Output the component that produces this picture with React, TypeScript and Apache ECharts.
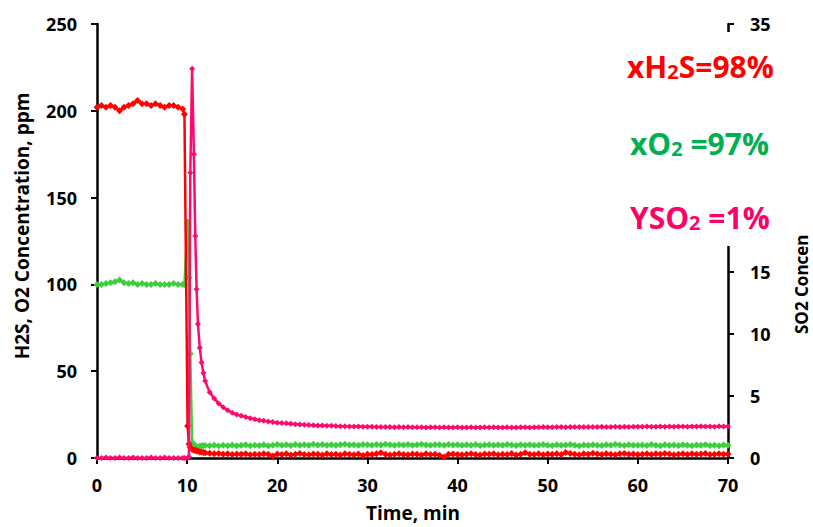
import React, { useEffect, useRef } from "react";
import * as echarts from "echarts";

// ---- time grid (min) ----
const preTimes = [0, 0.5, 1, 1.5, 2, 2.5, 3, 3.5, 4, 4.5, 5, 5.5, 6, 6.5, 7, 7.5, 8, 8.5, 9, 9.5];
const transTimes = [9.7, 10.05, 10.2, 10.35, 10.55, 10.75, 10.9, 11.05, 11.2, 11.4, 11.6, 11.8, 12];
const postTimes = [
  12.5, 13, 13.5, 14, 14.5, 15, 15.5, 16, 16.5, 17, 17.5, 18, 18.5, 19, 19.5, 20,
  20.5, 21, 21.5, 22, 22.5, 23, 23.5, 24, 24.5, 25, 25.5, 26, 26.5, 27, 27.5, 28, 28.5, 29, 29.5, 30,
  30.5, 31, 31.5, 32, 32.5, 33, 33.5, 34, 34.5, 35, 35.5, 36, 36.5, 37, 37.5, 38, 38.5, 39, 39.5, 40,
  40.5, 41, 41.5, 42, 42.5, 43, 43.5, 44, 44.5, 45, 45.5, 46, 46.5, 47, 47.5, 48, 48.5, 49, 49.5, 50,
  50.5, 51, 51.5, 52, 52.5, 53, 53.5, 54, 54.5, 55, 55.5, 56, 56.5, 57, 57.5, 58, 58.5, 59, 59.5, 60,
  60.5, 61, 61.5, 62, 62.5, 63, 63.5, 64, 64.5, 65, 65.5, 66, 66.5, 67, 67.5, 68, 68.5, 69, 69.5, 70,
];

// ---- H2S (ppm, left axis) ----
const h2sPre = [202, 203, 202, 203, 202, 200, 202, 203, 204, 206, 204, 204, 203, 204, 203, 202, 203, 203, 202, 201];
const h2sTrans = [198, 18.5, 8, 6, 5, 4.5, 4.5, 4, 4, 3.5, 3.5, 3.2, 3];
const h2sPost = [
  2.8, 2.5, 2.6, 2.2, 2.4, 2.0, 2.3, 2.1, 2.5, 1.9, 2.2, 2.0, 2.4, 2.1, 1.2, 2.3,
  2.0, 2.5, 1.8, 2.2, 2.6, 2.0, 1.9, 2.3, 2.1, 1.7, 2.4, 2.0, 2.2, 1.8, 2.5, 2.1, 1.9, 2.3, 1.4, 2.2,
  2.0, 2.4, 3.0, 2.1, 1.8, 2.2, 2.5, 2.0, 1.9, 2.3, 2.1, 1.8, 2.4, 2.0, 2.2, 1.6, 0.6, 2.1, 2.3, 2.0,
  1.9, 2.2, 2.5, 2.0, 1.7, 2.3, 2.1, 2.4, 1.9, 2.2, 2.0, 2.6, 1.8, 2.1, 3.0, 2.2, 2.0, 2.4, 1.9, 2.3,
  2.1, 2.5, 2.0, 3.2, 2.6, 2.2, 1.9, 2.4, 2.1, 2.8, 2.3, 2.0, 2.5, 2.2, 1.9, 2.4, 2.6, 2.1, 2.3, 2.0,
  2.2, 2.5, 2.0, 2.4, 2.1, 2.6, 2.3, 1.9, 2.2, 2.5, 2.0, 2.4, 2.1, 2.3, 2.6, 2.0, 2.2, 2.4, 2.1, 2.3,
];

// ---- O2 (ppm, left axis) ----
const o2Pre = [100, 100, 100.5, 101, 101.5, 102.5, 101, 100.5, 101, 100, 100.5, 100, 100, 100.5, 100, 100, 100, 100.5, 100, 100];
const o2Trans = [100, 136, 104, 60, 9, 7.5, 7, 6.5, 6.5, 6.8, 7, 7, 7.2];
const o2Post = [
  7.0, 7.3, 6.9, 7.4, 7.1, 7.5, 7.0, 7.3, 7.6, 7.1, 7.4, 7.2, 7.6, 7.0, 7.4, 7.8,
  7.3, 7.6, 7.2, 7.8, 7.4, 7.7, 7.3, 7.9, 7.5, 7.8, 7.4, 7.7, 7.3, 7.6, 7.9, 7.5, 7.7, 7.4, 7.8, 7.6,
  7.4, 7.8, 7.5, 7.9, 7.6, 7.3, 7.7, 7.5, 7.8, 7.4, 7.6, 7.9, 7.5, 7.3, 7.7, 7.6, 7.4, 7.8, 7.5, 7.7,
  7.3, 7.6, 7.4, 7.8, 7.2, 7.5, 7.7, 7.3, 7.6, 7.4, 7.8, 7.5, 7.2, 7.6, 7.4, 7.7, 7.3, 7.5, 7.8, 7.4,
  7.2, 7.6, 7.3, 7.5, 7.8, 7.4, 7.1, 7.5, 7.3, 7.7, 7.4, 7.2, 7.6, 7.3, 7.9, 7.5, 7.2, 7.6, 7.4, 7.3,
  7.5, 7.2, 7.8, 7.4, 7.1, 7.6, 7.3, 7.5, 7.2, 7.6, 7.4, 7.1, 7.5, 7.3, 7.6, 7.2, 7.4, 7.1, 7.5, 7.3,
];

// ---- SO2 (ppm, right axis) ----
const so2Pre = [0, 0, 0.05, 0, 0, 0.05, 0, 0, 0.05, 0, 0, 0, 0.05, 0, 0, 0.05, 0, 0, 0, 0];
const so2Trans = [0, 0, 0.1, 23, 31.4, 24.5, 17.9, 13.6, 10.8, 8.9, 7.7, 6.85, 6.2];
const so2Post = [
  5.3, 4.8, 4.4, 4.1, 3.85, 3.65, 3.5, 3.4, 3.3, 3.2, 3.12, 3.05, 3.0, 2.95, 2.9, 2.85,
  2.82, 2.8, 2.76, 2.73, 2.7, 2.68, 2.66, 2.65, 2.63, 2.62, 2.6, 2.6, 2.58, 2.57, 2.56, 2.55, 2.55, 2.54, 2.53, 2.52,
  2.52, 2.5, 2.51, 2.49, 2.5, 2.48, 2.5, 2.47, 2.49, 2.48, 2.47, 2.48, 2.46, 2.47, 2.48, 2.46, 2.47, 2.45, 2.46, 2.47,
  2.46, 2.45, 2.47, 2.46, 2.45, 2.47, 2.46, 2.48, 2.45, 2.46, 2.47, 2.45, 2.46, 2.48, 2.47, 2.46, 2.48, 2.47, 2.49, 2.48,
  2.48, 2.5, 2.49, 2.48, 2.5, 2.49, 2.51, 2.5, 2.49, 2.51, 2.5, 2.52, 2.5, 2.51, 2.53, 2.5, 2.52, 2.51, 2.53, 2.52,
  2.52, 2.54, 2.52, 2.53, 2.55, 2.53, 2.54, 2.52, 2.55, 2.54, 2.53, 2.55, 2.54, 2.56, 2.54, 2.55, 2.53, 2.56, 2.55, 2.54,
];

const xTicks = { min: 0, max: 70, interval: 10 };
const leftTicks = { min: 0, max: 250, interval: 50 };
const rightTicks = { min: 0, max: 35, interval: 5 };
const hiddenRightLabels = [20, 25, 30];

const xName = "Time, min";
const leftName = "H2S, O2 Concentration, ppm";
const rightName = "SO2 Concen";

const FONT = "'Open Sans', 'Liberation Sans', sans-serif";
const RED = "#ff0000";
const GREEN = "#3ccf3c";
const PINK = "#ff0a6c";

export default function App() {
  const ref = useRef<HTMLDivElement>(null);

  useEffect(() => {
    if (!ref.current) return;
    const chart = echarts.init(ref.current, undefined, { renderer: "svg" });

    const times = [...preTimes, ...transTimes, ...postTimes];
    const h2s = [...h2sPre, ...h2sTrans, ...h2sPost];
    const o2 = [...o2Pre, ...o2Trans, ...o2Post];
    const so2 = [...so2Pre, ...so2Trans, ...so2Post];
    const zip = (vals: number[]) => times.map((t, i) => [t, vals[i]]);

    const axisLabel = { color: "#000", fontFamily: FONT, fontWeight: "bold" as const, fontSize: 18 };
    const axisLine = { show: true, lineStyle: { color: "#000", width: 2.5 } };
    const axisTick = { show: true, inside: false, length: 6, lineStyle: { color: "#000", width: 2 } };

    const annStyle = (color: string) => ({
      rich: {
        m: { fontFamily: FONT, fontWeight: "bold", fontSize: 30, lineHeight: 30, fill: color, color },
        s: { fontFamily: FONT, fontWeight: "bold", fontSize: 20, lineHeight: 14, verticalAlign: "bottom", fill: color, color },
      },
    });

    chart.setOption({
      animation: false,
      backgroundColor: "#fff",
      grid: { left: 97, right: 85, top: 24, bottom: 69, containLabel: false },
      xAxis: {
        type: "value",
        ...xTicks,
        axisLine,
        axisTick: { ...axisTick, length: 6 },
        axisLabel: { ...axisLabel, margin: 18 },
        splitLine: { show: false },
      },
      yAxis: [
        {
          type: "value",
          ...leftTicks,
          position: "left",
          axisLine,
          axisTick,
          axisLabel: { ...axisLabel, margin: 20 },
          splitLine: { show: false },
        },
        {
          type: "value",
          ...rightTicks,
          position: "right",
          axisLine,
          axisTick,
          axisLabel: {
            ...axisLabel,
            margin: 22,
            formatter: (v: number) => (hiddenRightLabels.includes(v) ? "" : String(v)),
          },
          splitLine: { show: false },
        },
      ],
      series: [
        {
          name: "O2",
          type: "line",
          yAxisIndex: 0,
          data: zip(o2),
          symbol: "diamond",
          symbolSize: 7,
          lineStyle: { color: GREEN, width: 2.5 },
          itemStyle: { color: GREEN },
          z: 2,
        },
        {
          name: "H2S",
          type: "line",
          yAxisIndex: 0,
          data: zip(h2s),
          symbol: "diamond",
          symbolSize: 7,
          lineStyle: { color: RED, width: 2.5 },
          itemStyle: { color: RED },
          z: 3,
        },
        {
          name: "SO2",
          type: "line",
          yAxisIndex: 1,
          data: zip(so2),
          symbol: "diamond",
          symbolSize: 6,
          lineStyle: { color: PINK, width: 2.5 },
          itemStyle: { color: PINK },
          z: 4,
        },
      ],
      graphic: [
        {
          type: "rect",
          z: 100,
          shape: { x: 600, y: 32, width: 213, height: 214 },
          style: { fill: "#fff" },
          silent: true,
        },
        {
          type: "text",
          z: 101,
          x: 627,
          y: 66,
          style: {
            text: "{m|xH}{s|2}{m|S=98%}",
            verticalAlign: "middle",
            align: "left",
            ...annStyle(RED),
          },
        },
        {
          type: "text",
          z: 101,
          x: 630,
          y: 143,
          style: {
            text: "{m|xO}{s|2}{m| =97%}",
            verticalAlign: "middle",
            align: "left",
            ...annStyle("#00b050"),
          },
        },
        {
          type: "text",
          z: 101,
          x: 630,
          y: 217,
          style: {
            text: "{m|YSO}{s|2}{m| =1%}",
            verticalAlign: "middle",
            align: "left",
            ...annStyle("#ff0066"),
          },
        },
        {
          type: "text",
          z: 101,
          x: 22,
          y: 226,
          rotation: Math.PI / 2,
          style: {
            text: leftName,
            fontFamily: FONT,
            fontWeight: "bold",
            fontSize: 19,
            fill: "#000",
            align: "center",
            verticalAlign: "middle",
          },
        },
        {
          type: "text",
          z: 101,
          x: 801,
          y: 334,
          rotation: Math.PI / 2,
          style: {
            text: rightName,
            fontFamily: FONT,
            fontWeight: "bold",
            fontSize: 17,
            fill: "#000",
            align: "left",
            verticalAlign: "middle",
          },
        },
        {
          type: "text",
          z: 101,
          x: 413,
          y: 513,
          style: {
            text: xName,
            fontFamily: FONT,
            fontWeight: "bold",
            fontSize: 19,
            fill: "#000",
            align: "center",
            verticalAlign: "middle",
          },
        },
      ],
    });

    return () => chart.dispose();
  }, []);

  return (
    <div
      ref={ref}
      style={{ position: "fixed", left: 0, top: 0, width: 813, height: 527, background: "#fff" }}
    />
  );
}
